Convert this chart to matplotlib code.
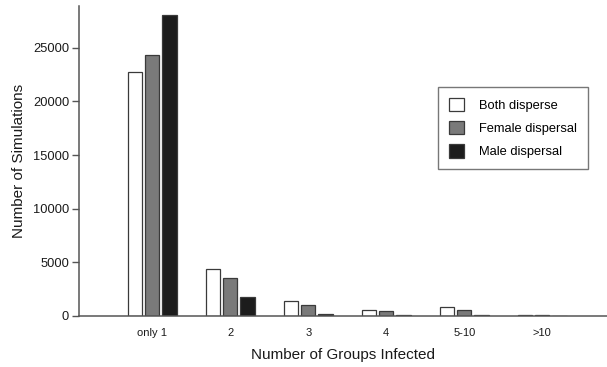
import numpy as np
import matplotlib
matplotlib.use("Agg")
from matplotlib import pyplot as plt

plt.rcParams['font.family'] = ['Liberation Sans', 'DejaVu Sans']

categories = ["only 1", "2", "3", "4", "5-10", ">10"]
both_disperse = [22700, 4350, 1430, 560, 840, 120]
female_dispersal = [24350, 3520, 1030, 440, 560, 120]
male_dispersal = [28080, 1740, 220, 70, 90, 0]

series = [
    ("Both disperse", both_disperse, "white"),
    ("Female dispersal", female_dispersal, "#7a7a7a"),
    ("Male dispersal", male_dispersal, "#1c1c1c"),
]

fig = plt.figure(figsize=(6.07, 3.67), dpi=100)
ax = fig.add_axes([0.130, 0.139, 0.870, 0.845])

x = np.arange(len(categories))
width = 0.185
offset = 0.22
for i, (name, vals, color) in enumerate(series):
    ax.bar(x + (i - 1) * offset, vals, width, color=color,
           edgecolor="#3a3a3a", linewidth=0.9, label=name)

ax.set_xlim(-0.94, 5.83)
ax.set_ylim(0, 28900)
ax.set_xticks(x)
ax.set_xticklabels(categories)
ax.set_yticks([0, 5000, 10000, 15000, 20000, 25000])

for side in ("top", "right"):
    ax.spines[side].set_visible(False)
for side in ("left", "bottom"):
    ax.spines[side].set_color("#555555")
    ax.spines[side].set_linewidth(1.1)

ax.tick_params(axis="y", direction="out", length=5, width=1, color="#555555",
               labelsize=9.3, pad=2, labelcolor="#1a1a1a")
ax.tick_params(axis="x", length=0, labelsize=8, pad=9, labelcolor="#1a1a1a")

ax.set_xlabel("Number of Groups Infected", fontsize=11, labelpad=7, color="#1a1a1a")
ax.set_ylabel("Number of Simulations", fontsize=11, labelpad=5, color="#1a1a1a")

leg = ax.legend(loc="upper left", bbox_to_anchor=(0.68, 0.739), fontsize=9.3,
                frameon=True, fancybox=False, handlelength=1.15, handleheight=1.2,
                handletextpad=1.2, labelspacing=0.72, borderpad=0.85,
                borderaxespad=0)
leg.get_frame().set_edgecolor("#555555")
leg.get_frame().set_linewidth(1.0)

fig.savefig("out.png", dpi=100)
